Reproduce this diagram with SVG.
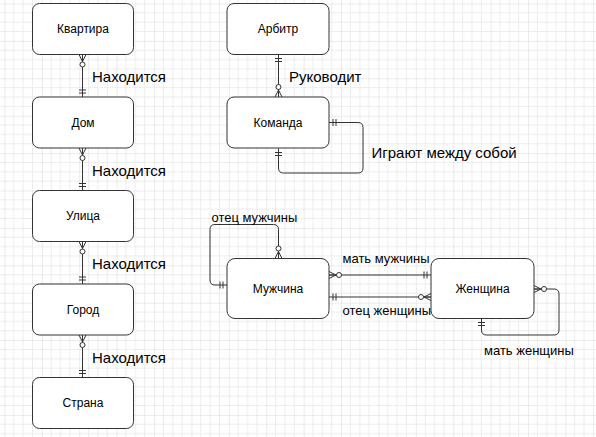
<svg xmlns="http://www.w3.org/2000/svg" width="596" height="437" viewBox="0 0 596 437">
<style>
.box{fill:#fff;stroke:#333;stroke-width:1}
.lbl{font-family:"Liberation Sans",Arial,sans-serif;font-size:12px;fill:#000;text-anchor:middle}
.rel{font-family:"Liberation Sans",Arial,sans-serif;font-size:15px;fill:#000}
.rel2{font-family:"Liberation Sans",Arial,sans-serif;font-size:13px;fill:#000}
.c{fill:none;stroke:#333;stroke-width:1}
</style>
<defs>
<pattern id="grid" patternUnits="userSpaceOnUse" x="4.45" y="3.5" width="37.4" height="37.4">
<path d="M0 0H37.4M0 9.35H37.4M0 18.7H37.4M0 28.05H37.4M0 0V37.4M9.35 0V37.4M18.7 0V37.4M28.05 0V37.4" stroke="#ececec" stroke-width="1" fill="none"/>
<path d="M0 0H37.4M0 0V37.4" stroke="#e0e0e0" stroke-width="1" fill="none"/>
</pattern>
<marker id="many0" markerUnits="userSpaceOnUse" viewBox="-14 -6 15 12" refX="0" refY="0" markerWidth="15" markerHeight="12" orient="auto-start-reverse" overflow="visible">
<path d="M-7 0L0 -3.5M-7 0L0 3.5M-7 0H0" fill="none" stroke="#333" stroke-width="1"/>
<circle cx="-10" cy="0" r="2.5" fill="#fff" stroke="#333" stroke-width="1"/>
</marker>
<marker id="one" markerUnits="userSpaceOnUse" viewBox="-14 -6 15 12" refX="0" refY="0" markerWidth="15" markerHeight="12" orient="auto-start-reverse" overflow="visible">
<path d="M-4 -3.5V3.5M-7 -3.5V3.5" fill="none" stroke="#333" stroke-width="1"/>
</marker>
</defs>
<rect width="596" height="437" fill="#fff"/>
<rect width="596" height="437" fill="url(#grid)"/>

<g id="connectors">
<path class="c" d="M82.5 54.5V97" marker-start="url(#many0)" marker-end="url(#one)"/>
<path class="c" d="M82.5 148V190.5" marker-start="url(#many0)" marker-end="url(#one)"/>
<path class="c" d="M82.5 241.5V284" marker-start="url(#many0)" marker-end="url(#one)"/>
<path class="c" d="M82.5 335V377.5" marker-start="url(#many0)" marker-end="url(#one)"/>
<path class="c" d="M278.5 54.5V97" marker-start="url(#one)" marker-end="url(#many0)"/>
<path class="c" d="M329 122.5H358Q363 122.5 363 127.5V168Q363 173 358 173H283.5Q278.5 173 278.5 168V148.5" marker-start="url(#one)" marker-end="url(#one)"/>
<path class="c" d="M227 285H215Q210 285 210 280V229.5Q210 224.5 215 224.5H273.5Q278.5 224.5 278.5 229.5V258.5" marker-start="url(#one)" marker-end="url(#many0)"/>
<path class="c" d="M329 275H431" marker-start="url(#many0)" marker-end="url(#one)"/>
<path class="c" d="M329 297H431" marker-start="url(#one)" marker-end="url(#many0)"/>
<path class="c" d="M534 289H554Q559 289 559 294V330Q559 335 554 335H486.5Q481.5 335 481.5 330V318.5" marker-start="url(#many0)" marker-end="url(#one)"/>
</g>

<g id="node-kvartira"><rect class="box" x="32.5" y="3.5" width="101" height="51" rx="7"/><text class="lbl" x="83" y="33">Квартира</text></g>
<g id="node-dom"><rect class="box" x="32.5" y="97" width="101" height="51" rx="7"/><text class="lbl" x="83" y="127">Дом</text></g>
<g id="node-ulica"><rect class="box" x="32.5" y="190.5" width="101" height="51" rx="7"/><text class="lbl" x="83" y="220">Улица</text></g>
<g id="node-gorod"><rect class="box" x="32.5" y="284" width="101" height="51" rx="7"/><text class="lbl" x="83" y="314">Город</text></g>
<g id="node-strana"><rect class="box" x="32.5" y="377.5" width="101" height="51" rx="7"/><text class="lbl" x="83" y="407">Страна</text></g>
<g id="node-arbitr"><rect class="box" x="227" y="3.5" width="102" height="51" rx="7"/><text class="lbl" x="278" y="33">Арбитр</text></g>
<g id="node-komanda"><rect class="box" x="227" y="97" width="102" height="51" rx="7"/><text class="lbl" x="278" y="127">Команда</text></g>
<g id="node-muzhchina"><rect class="box" x="227" y="258.5" width="102" height="60" rx="8"/><text class="lbl" x="278" y="293">Мужчина</text></g>
<g id="node-zhenshchina"><rect class="box" x="431" y="258.5" width="103" height="60" rx="8"/><text class="lbl" x="482.5" y="293">Женщина</text></g>

<g id="labels">
<text class="rel" x="92" y="82">Находится</text>
<text class="rel" x="92" y="175.5">Находится</text>
<text class="rel" x="92" y="269">Находится</text>
<text class="rel" x="92" y="362.5">Находится</text>
<text class="rel" x="289" y="81.5">Руководит</text>
<text class="rel" x="371.5" y="158">Играют между собой</text>
<text class="rel2" x="211.5" y="222">отец мужчины</text>
<text class="rel2" x="342.5" y="263">мать мужчины</text>
<text class="rel2" x="342.5" y="314.5">отец женщины</text>
<text class="rel2" x="484" y="354.5">мать женщины</text>
</g>
</svg>
